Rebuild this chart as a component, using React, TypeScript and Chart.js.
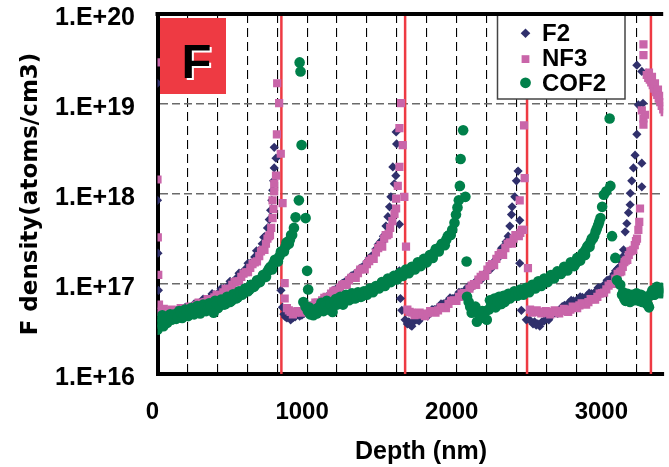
import React, { useEffect, useRef } from 'react';
import { Chart, registerables } from 'chart.js';

Chart.register(...registerables);

// ---------- data ----------
const seriesNames = ['F2', 'NF3', 'COF2'];
const xLabelValues = [0, 1000, 2000, 3000];
const xTickLabels = ['0', '1000', '2000', '3000'];
const xGridValues = [0, 200, 400, 600, 800, 1000, 1200, 1400, 1600, 1800, 2000, 2200, 2400, 2600, 2800, 3000, 3200];
const yTickValues = [1e16, 1e17, 1e18, 1e19, 1e20];
const yTickLabels = ['1.E+16', '1.E+17', '1.E+18', '1.E+19', '1.E+20'];
const xTitle = 'Depth (nm)';
const yTitle = 'F density(atoms/cm3)';
const interfaceDepths = [828, 1655, 2470, 3298];
const xMin = 0;
const xMax = 3380;
const yMin = 1e16;
const yMax = 1e20;

// [depth (nm), density (atoms/cm3)]
const f2Points = [
  [0, 1.7e19], [0, 8.5e17], [3, 2.2e17], [6, 8.5e16], [25, 5.0e16], [50, 4.6e16], [80, 4.5e16], [110, 4.7e16],
  [140, 4.8e16], [170, 5.0e16], [200, 5.2e16], [230, 5.5e16], [260, 5.9e16], [290, 6.2e16], [320, 6.6e16],
  [350, 7.1e16], [380, 7.6e16], [410, 8.1e16], [440, 8.9e16], [470, 9.5e16], [500, 1.05e17], [530, 1.17e17],
  [560, 1.32e17], [590, 1.48e17], [620, 1.7e17], [650, 2.0e17], [675, 2.34e17], [700, 2.8e17], [720, 3.4e17],
  [735, 4.2e17], [747, 5.2e17], [756, 6.6e17], [764, 8.5e17], [770, 1.1e18], [776, 1.4e18], [780, 1.95e18],
  [792, 2.5e18], [780, 3.3e18], [825, 8.5e16],
  [835, 5.5e16], [845, 4.6e16], [865, 4.2e16], [890, 4.0e16], [920, 4.3e16], [950, 4.4e16], [980, 4.7e16],
  [1010, 5.0e16], [1040, 5.5e16], [1070, 6.0e16], [1100, 6.6e16], [1130, 7.2e16], [1160, 7.9e16], [1190, 8.7e16],
  [1220, 9.5e16], [1250, 1.05e17], [1280, 1.15e17], [1310, 1.26e17], [1340, 1.38e17], [1370, 1.55e17],
  [1400, 1.78e17], [1430, 2.04e17], [1460, 2.45e17], [1490, 2.95e17], [1510, 3.4e17], [1527, 4.4e17],
  [1540, 5.6e17], [1551, 7.2e17], [1560, 9.3e17], [1573, 2.0e18], [1583, 1.3e18], [1593, 1.6e18],
  [1598, 3.6e18], [1595, 4.9e18], [1617, 4.6e17], [1617, 1.4e17], [1624, 6.9e16], [1633, 5.1e16],
  [1655, 4.0e16], [1670, 3.6e16], [1690, 3.5e16], [1710, 3.8e16], [1735, 4.0e16], [1760, 4.3e16], [1790, 4.6e16],
  [1820, 4.9e16], [1850, 5.2e16], [1880, 5.6e16], [1910, 6.0e16], [1940, 6.5e16], [1970, 6.9e16], [2000, 7.4e16],
  [2030, 8.1e16], [2060, 8.7e16], [2090, 9.3e16], [2120, 1.02e17], [2150, 1.12e17], [2180, 1.23e17],
  [2210, 1.41e17], [2240, 1.62e17], [2265, 1.9e17], [2290, 2.24e17], [2310, 2.57e17], [2330, 2.95e17],
  [2344, 3.4e17], [2355, 4.4e17], [2366, 5.9e17], [2370, 7.2e17], [2388, 9.3e17], [2399, 1.4e18], [2410, 1.8e18],
  [2421, 5.1e17], [2421, 1.7e17], [2432, 5.1e16], [2465, 4.0e16],
  [2487, 4.0e16], [2510, 3.6e16], [2531, 3.5e16], [2542, 3.6e16], [2570, 3.8e16], [2600, 4.1e16], [2630, 4.4e16],
  [2660, 4.8e16], [2690, 5.2e16], [2720, 5.8e16], [2750, 6.2e16], [2780, 6.5e16], [2810, 6.8e16], [2840, 7.1e16],
  [2870, 7.4e16], [2900, 7.8e16], [2930, 8.3e16], [2960, 9.1e16], [2990, 1.0e17], [3020, 1.12e17], [3050, 1.29e17],
  [3075, 1.48e17], [3100, 1.78e17], [3115, 2.4e17], [3126, 3.8e17], [3137, 4.7e17], [3148, 6.2e17],
  [3159, 7.6e17], [3160, 1.02e18], [3170, 1.4e18], [3181, 1.95e18], [3192, 2.7e18], [3204, 4.6e18],
  [3237, 2.2e18], [3237, 1.2e18], [3214, 9.8e18], [3245, 1.02e19], [3204, 2.7e19], [3237, 2.3e19],
  [3269, 2.2e19], [3285, 2.0e19],
];

// additional F2 readings scattered across the band
const f2BandPoints = [
  [40, 4.4e16], [65, 4.9e16], [95, 4.3e16], [125, 5.1e16], [155, 4.6e16], [185, 5.5e16], [215, 5.0e16],
  [245, 6.0e16], [275, 5.5e16], [305, 6.8e16], [335, 6.3e16], [365, 7.8e16], [395, 7.2e16], [425, 8.9e16],
  [455, 8.5e16], [485, 1.07e17], [515, 1.02e17], [545, 1.32e17], [575, 1.29e17], [605, 1.7e17], [635, 1.7e17],
  [662, 2.34e17], [688, 2.4e17], [710, 3.3e17],
  [855, 4.3e16], [878, 4.5e16], [905, 4.2e16], [935, 4.6e16], [965, 4.5e16], [995, 5.1e16], [1025, 5.0e16],
  [1055, 5.9e16], [1085, 5.9e16], [1115, 7.1e16], [1145, 7.0e16], [1175, 8.5e16], [1205, 8.5e16], [1235, 1.02e17],
  [1265, 1.02e17], [1295, 1.23e17], [1325, 1.23e17], [1355, 1.5e17], [1385, 1.55e17], [1415, 1.95e17],
  [1445, 2.1e17], [1475, 2.75e17], [1500, 2.9e17],
  [1680, 3.8e16], [1700, 3.4e16], [1722, 4.0e16], [1748, 3.9e16], [1775, 4.6e16], [1805, 4.4e16], [1835, 5.2e16],
  [1865, 5.1e16], [1895, 6.0e16], [1925, 5.9e16], [1955, 7.0e16], [1985, 6.9e16], [2015, 8.1e16], [2045, 8.0e16],
  [2075, 9.3e16], [2105, 9.3e16], [2135, 1.1e17], [2165, 1.12e17], [2195, 1.35e17], [2225, 1.45e17],
  [2252, 1.8e17], [2278, 1.95e17], [2300, 2.5e17], [2320, 2.6e17],
  [2520, 3.8e16], [2555, 3.4e16], [2585, 3.9e16], [2615, 4.0e16], [2645, 4.7e16], [2675, 4.7e16], [2705, 5.6e16],
  [2735, 5.7e16], [2765, 6.6e16], [2795, 6.3e16], [2825, 7.2e16], [2855, 6.9e16], [2885, 7.9e16], [2915, 7.7e16],
  [2945, 9.1e16], [2975, 9.1e16], [3005, 1.1e17], [3035, 1.15e17], [3062, 1.4e17], [3088, 1.55e17], [3108, 2.0e17],
];

const nf3Points = [
  [0, 2.9e19], [0, 1.45e18], [2, 3.3e17], [5, 1.26e17], [10, 5.9e16], [30, 5.2e16], [55, 5.0e16], [80, 4.9e16],
  [110, 5.0e16], [140, 5.0e16], [170, 5.1e16], [200, 5.2e16], [230, 5.5e16], [260, 5.8e16], [290, 6.0e16],
  [320, 6.3e16], [350, 6.6e16], [380, 7.1e16], [410, 7.6e16], [440, 8.1e16], [470, 8.9e16], [500, 9.8e16],
  [530, 1.07e17], [560, 1.2e17], [590, 1.35e17], [620, 1.51e17], [650, 1.74e17], [680, 2.04e17], [705, 2.4e17],
  [725, 2.8e17], [745, 3.4e17], [760, 4.2e17], [769, 5.4e17], [775, 6.8e17], [769, 8.5e17], [780, 1.07e18],
  [780, 1.3e18], [792, 1.6e18], [798, 4.6e18], [800, 1.7e19], [813, 1.02e19], [824, 2.8e18], [836, 7.9e17],
  [850, 1.02e17], [850, 6.9e16],
  [865, 5.4e16], [890, 4.9e16], [920, 4.8e16], [950, 4.9e16], [980, 5.1e16], [1010, 5.4e16], [1040, 5.8e16],
  [1070, 6.2e16], [1100, 6.6e16], [1130, 7.2e16], [1160, 7.8e16], [1190, 8.5e16], [1220, 9.1e16], [1250, 1.0e17],
  [1280, 1.1e17], [1310, 1.2e17], [1340, 1.32e17], [1370, 1.48e17], [1400, 1.66e17], [1430, 1.9e17],
  [1460, 2.24e17], [1490, 2.7e17], [1515, 3.2e17], [1535, 3.5e17], [1555, 4.2e17], [1570, 5.0e17],
  [1584, 6.0e17], [1595, 6.9e17], [1595, 8.9e17], [1606, 1.23e18], [1617, 2.0e18], [1617, 5.4e18],
  [1628, 1.02e19], [1639, 3.5e18], [1650, 9.3e17], [1661, 2.6e17],
  [1670, 5.2e16], [1700, 4.8e16], [1735, 4.6e16], [1770, 4.6e16], [1805, 4.7e16], [1840, 4.9e16], [1875, 5.1e16],
  [1910, 5.5e16], [1945, 6.0e16], [1980, 6.6e16], [2015, 7.2e16], [2050, 7.9e16], [2085, 8.9e16], [2115, 1.0e17],
  [2145, 1.12e17], [2175, 1.26e17], [2205, 1.45e17], [2235, 1.66e17], [2265, 1.9e17], [2295, 2.2e17],
  [2325, 2.5e17], [2355, 2.9e17], [2380, 3.2e17], [2405, 3.5e17], [2425, 3.7e17], [2445, 4.0e17],
  [2421, 8.5e17], [2454, 1.5e18], [2450, 5.8e18], [2476, 1.5e17],
  [2490, 5.2e16], [2520, 5.0e16], [2550, 4.9e16], [2580, 4.8e16], [2610, 4.8e16], [2640, 4.9e16], [2670, 4.9e16],
  [2700, 5.0e16], [2730, 5.1e16], [2760, 5.2e16], [2790, 5.5e16], [2820, 5.8e16], [2850, 6.0e16], [2880, 6.3e16],
  [2910, 6.8e16], [2940, 7.2e16], [2970, 7.9e16], [3000, 8.7e16], [3030, 1.0e17], [3060, 1.15e17],
  [3090, 1.35e17], [3110, 1.55e17], [3130, 1.82e17], [3150, 2.1e17], [3170, 2.34e17], [3190, 2.7e17],
  [3205, 3.2e17], [3214, 4.0e17], [3220, 4.9e17], [3225, 6.9e17], [3237, 8.5e18], [3248, 6.9e18],
  [3248, 5.9e18], [3258, 7.6e18], [3248, 3.5e19], [3248, 4.6e19],
  [3270, 2.1e19], [3280, 1.95e19], [3290, 1.86e19], [3300, 1.74e19], [3310, 1.62e19], [3320, 1.48e19],
  [3330, 1.35e19], [3340, 1.26e19], [3350, 1.15e19], [3360, 1.05e19], [3370, 9.5e18], [3380, 8.7e18],
  [3390, 8.1e18], [3285, 2.24e19], [3305, 2.0e19], [3325, 1.7e19], [3345, 1.45e19], [3365, 1.23e19],
  [3385, 1.05e19],
];

// additional NF3 readings scattered across the band
const nf3BandPoints = [
  [20, 4.9e16], [42, 5.3e16], [68, 4.7e16], [95, 5.2e16], [125, 4.8e16], [155, 5.4e16], [185, 4.9e16],
  [215, 5.6e16], [245, 5.3e16], [275, 6.2e16], [305, 5.8e16], [335, 6.8e16], [365, 6.5e16], [395, 7.6e16],
  [425, 7.5e16], [455, 8.8e16], [485, 8.8e16], [515, 1.05e17], [545, 1.07e17], [575, 1.3e17], [605, 1.35e17],
  [635, 1.66e17], [665, 1.78e17], [692, 2.3e17], [715, 2.4e17], [735, 3.2e17], [752, 3.5e17],
  [878, 5.1e16], [905, 4.6e16], [935, 5.0e16], [965, 4.8e16], [995, 5.4e16], [1025, 5.3e16], [1055, 6.2e16],
  [1085, 6.0e16], [1115, 7.0e16], [1145, 7.0e16], [1175, 8.3e16], [1205, 8.2e16], [1235, 9.8e16], [1265, 9.8e16],
  [1295, 1.17e17], [1325, 1.17e17], [1355, 1.45e17], [1385, 1.45e17], [1415, 1.8e17], [1445, 1.9e17],
  [1475, 2.5e17], [1502, 2.6e17], [1525, 3.5e17], [1545, 3.6e17],
  [1685, 4.9e16], [1718, 4.5e16], [1752, 4.8e16], [1788, 4.4e16], [1822, 5.0e16], [1858, 4.8e16], [1892, 5.5e16],
  [1928, 5.4e16], [1962, 6.5e16], [1998, 6.5e16], [2032, 7.8e16], [2068, 7.8e16], [2100, 9.6e16], [2130, 9.8e16],
  [2160, 1.2e17], [2190, 1.23e17], [2220, 1.58e17], [2250, 1.62e17], [2280, 2.1e17], [2310, 2.1e17],
  [2340, 2.8e17], [2368, 2.8e17], [2392, 3.5e17], [2415, 3.4e17], [2435, 4.0e17],
  [2505, 4.8e16], [2535, 5.1e16], [2565, 4.7e16], [2595, 5.0e16], [2625, 4.6e16], [2655, 5.1e16], [2685, 4.7e16],
  [2715, 5.3e16], [2745, 4.9e16], [2775, 5.6e16], [2805, 5.4e16], [2835, 6.1e16], [2865, 5.9e16], [2895, 6.8e16],
  [2925, 6.7e16], [2955, 7.8e16], [2985, 8.0e16], [3015, 9.6e16], [3045, 1.0e17], [3075, 1.3e17], [3100, 1.38e17],
  [3120, 1.75e17], [3140, 1.85e17], [3160, 2.3e17], [3180, 2.4e17], [3198, 3.0e17],
];

const cof2Points = [
  [0, 3.1e16], [15, 3.6e16], [25, 4.2e16], [40, 3.4e16], [55, 4.0e16], [75, 4.4e16], [95, 4.0e16], [115, 4.6e16],
  [135, 4.3e16], [155, 4.8e16], [175, 4.5e16], [195, 5.0e16], [215, 4.6e16], [235, 5.1e16], [255, 4.9e16],
  [275, 5.4e16], [295, 5.0e16], [315, 5.5e16], [335, 5.2e16], [355, 5.8e16], [375, 4.8e16], [395, 6.0e16],
  [415, 5.8e16], [435, 6.3e16], [455, 6.0e16], [475, 6.8e16], [495, 6.5e16], [515, 7.2e16], [535, 7.1e16],
  [555, 7.8e16], [575, 7.9e16], [595, 8.5e16], [615, 8.7e16], [635, 9.3e16], [655, 9.8e16], [675, 1.07e17],
  [695, 1.15e17], [715, 1.26e17], [735, 1.38e17], [755, 1.55e17], [775, 1.7e17], [795, 1.86e17], [815, 2.04e17],
  [835, 2.3e17], [855, 2.6e17], [870, 2.8e17], [885, 3.1e17], [900, 3.5e17], [912, 4.2e17], [923, 5.5e17],
  [945, 8.5e17], [963, 3.5e18], [950, 2.9e19], [956, 2.3e19], [990, 5.4e17], [1000, 1.4e17], [1007, 8.7e16],
  [975, 6.3e16], [990, 5.6e16], [1005, 5.0e16], [1020, 4.6e16], [1035, 4.8e16], [1050, 5.2e16], [1065, 4.7e16],
  [1080, 5.5e16], [1095, 6.2e16], [1110, 5.0e16], [1125, 5.8e16], [1140, 5.2e16], [1155, 6.0e16], [1170, 4.9e16],
  [1185, 6.3e16], [1200, 5.9e16], [1215, 6.6e16], [1230, 6.2e16], [1250, 6.9e16], [1270, 7.2e16], [1290, 6.8e16],
  [1310, 7.4e16], [1330, 7.1e16], [1350, 7.6e16], [1370, 7.4e16], [1390, 7.9e16], [1410, 8.1e16], [1430, 8.5e16],
  [1450, 8.9e16], [1470, 9.1e16], [1490, 9.5e16], [1510, 1.0e17], [1530, 1.05e17], [1550, 1.1e17], [1570, 1.12e17],
  [1590, 1.17e17], [1610, 1.23e17], [1630, 1.29e17], [1650, 1.35e17], [1670, 1.38e17], [1690, 1.45e17],
  [1710, 1.51e17], [1730, 1.58e17], [1750, 1.66e17], [1770, 1.7e17], [1790, 1.82e17], [1810, 1.95e17],
  [1830, 2.1e17], [1850, 2.24e17], [1870, 2.4e17], [1890, 2.6e17], [1910, 2.8e17], [1930, 3.1e17], [1950, 3.5e17],
  [1970, 4.0e17], [1985, 4.8e17], [1995, 5.9e17], [2005, 7.1e17], [2014, 8.5e17], [2021, 1.23e18], [2026, 2.45e18],
  [2043, 5.1e18], [2058, 9.3e17], [2066, 1.78e17],
  [2069, 7.2e16], [2090, 5.6e16], [2113, 5.1e16], [2135, 3.8e16], [2150, 4.6e16], [2170, 5.0e16], [2185, 4.2e16],
  [2201, 4.0e16], [2215, 5.2e16], [2230, 5.8e16], [2245, 6.3e16], [2260, 5.5e16], [2275, 6.3e16], [2290, 6.0e16],
  [2305, 6.8e16], [2320, 6.3e16], [2335, 7.1e16], [2355, 6.9e16], [2375, 7.4e16], [2395, 7.8e16], [2415, 7.9e16],
  [2435, 8.1e16], [2455, 8.3e16], [2475, 8.5e16], [2495, 8.9e16], [2515, 9.3e16], [2535, 9.8e16], [2555, 1.0e17],
  [2575, 1.05e17], [2597, 1.1e17], [2620, 1.17e17], [2640, 1.23e17], [2660, 1.26e17], [2685, 1.32e17],
  [2707, 1.38e17], [2730, 1.48e17], [2750, 1.55e17], [2775, 1.62e17], [2796, 1.7e17], [2815, 1.86e17],
  [2835, 2.04e17], [2850, 2.24e17], [2862, 2.4e17], [2880, 2.7e17], [2895, 2.95e17], [2910, 3.2e17],
  [2928, 3.8e17], [2945, 4.5e17], [2961, 5.4e17], [2972, 7.2e17], [2983, 9.8e17], [3000, 1.07e18],
  [3027, 1.23e18], [3022, 6.9e18], [3038, 3.4e17], [3060, 1.95e17], [3071, 1.1e17], [3093, 9.8e16],
  [3105, 7.6e16], [3120, 6.9e16], [3135, 7.2e16], [3150, 6.6e16], [3165, 7.2e16], [3180, 6.9e16], [3195, 7.4e16],
  [3210, 6.8e16], [3225, 7.1e16], [3240, 6.3e16], [3255, 6.9e16], [3270, 6.0e16], [3285, 5.5e16], [3300, 7.9e16],
  [3315, 7.6e16], [3330, 8.5e16], [3345, 9.1e16], [3360, 7.9e16], [3375, 8.3e16], [3390, 8.9e16],
];

// additional COF2 readings scattered across the band
const cof2BandPoints = [
  [8, 3.8e16], [32, 4.5e16], [48, 3.8e16], [65, 3.7e16], [85, 4.6e16], [105, 4.3e16], [125, 4.1e16], [145, 5.0e16],
  [165, 4.2e16], [185, 5.2e16], [205, 4.4e16], [225, 5.4e16], [245, 4.6e16], [265, 5.7e16], [285, 4.7e16],
  [305, 5.9e16], [325, 5.0e16], [345, 6.1e16], [365, 5.5e16], [385, 6.5e16], [405, 5.4e16], [425, 6.7e16],
  [445, 5.9e16], [465, 7.2e16], [485, 6.3e16], [505, 7.7e16], [525, 6.9e16], [545, 8.3e16], [565, 7.6e16],
  [585, 8.9e16], [605, 8.3e16], [625, 9.8e16], [645, 9.3e16], [665, 1.1e17], [685, 1.05e17], [705, 1.26e17],
  [725, 1.2e17], [745, 1.48e17], [765, 1.45e17], [785, 1.86e17], [805, 1.78e17], [825, 2.3e17], [845, 2.3e17],
  [862, 2.9e17], [878, 2.8e17], [893, 3.5e17],
  [1012, 5.5e16], [1042, 4.5e16], [1072, 5.4e16], [1102, 5.8e16], [1132, 6.5e16], [1162, 5.6e16], [1192, 6.8e16],
  [1222, 7.2e16], [1240, 5.9e16], [1260, 7.6e16], [1280, 6.6e16], [1300, 7.9e16], [1320, 6.9e16], [1340, 8.1e16],
  [1360, 7.2e16], [1380, 8.3e16], [1400, 7.6e16], [1420, 8.9e16], [1440, 8.1e16], [1460, 9.5e16], [1480, 8.9e16],
  [1500, 1.05e17], [1520, 9.5e16], [1540, 1.15e17], [1560, 1.05e17], [1580, 1.23e17], [1600, 1.12e17],
  [1620, 1.32e17], [1640, 1.23e17], [1660, 1.45e17], [1680, 1.32e17], [1700, 1.55e17], [1720, 1.45e17],
  [1740, 1.74e17], [1760, 1.58e17], [1780, 1.9e17], [1800, 1.74e17], [1820, 2.1e17], [1840, 1.95e17],
  [1860, 2.45e17], [1880, 2.3e17], [1900, 2.8e17], [1920, 2.7e17], [1940, 3.4e17], [1960, 3.5e17],
  [2080, 6.3e16], [2100, 4.8e16], [2125, 5.6e16], [2160, 4.2e16], [2195, 5.0e16], [2222, 6.6e16], [2252, 6.9e16],
  [2268, 5.8e16], [2283, 7.2e16], [2298, 6.0e16], [2313, 7.4e16], [2328, 6.6e16], [2345, 7.8e16], [2365, 7.2e16],
  [2385, 8.3e16], [2405, 7.4e16], [2425, 8.7e16], [2445, 7.6e16], [2465, 9.1e16], [2485, 8.1e16], [2505, 9.8e16],
  [2525, 8.9e16], [2545, 1.07e17], [2565, 9.5e16], [2585, 1.15e17], [2608, 1.05e17], [2630, 1.26e17],
  [2650, 1.15e17], [2672, 1.38e17], [2696, 1.29e17], [2718, 1.55e17], [2740, 1.41e17], [2762, 1.74e17],
  [2785, 1.58e17], [2805, 1.95e17], [2825, 1.82e17], [2842, 2.2e17], [2858, 2.1e17], [2872, 2.6e17],
  [2888, 2.6e17], [2903, 3.2e17], [2918, 3.4e17], [2936, 4.1e17], [2952, 4.9e17],
  [3112, 8.1e16], [3128, 6.5e16], [3142, 7.8e16], [3158, 6.3e16], [3172, 7.6e16], [3188, 6.6e16], [3202, 7.9e16],
  [3218, 6.5e16], [3232, 7.6e16], [3248, 6.6e16], [3262, 7.2e16], [3278, 5.9e16], [3292, 7.4e16], [3308, 8.5e16],
  [3322, 7.6e16], [3338, 9.3e16], [3352, 8.5e16], [3368, 9.1e16], [3382, 7.9e16],
];

// ---------- styles ----------
const COLORS = { f2: '#30306C', nf3: '#C965A9', cof2: '#00804A', red: '#EE3A43' };
const LABEL_FONT = '"Liberation Sans", Arial, sans-serif';

const toXY = (pts: number[][]) => pts.map(([x, y]) => ({ x, y }));

const overlayPlugin = {
  id: 'overlay',
  afterDraw(chart: any) {
    const { ctx, chartArea } = chart;
    const { left, top, right, bottom } = chartArea;
    ctx.save();

    // "F" panel
    const bx = left + 2.5, by = top + 4, bw = 66, bh = 76;
    ctx.fillStyle = COLORS.red;
    ctx.fillRect(bx, by, bw, bh);
    ctx.font = `bold 49px ${LABEL_FONT}`;
    ctx.textAlign = 'center';
    ctx.textBaseline = 'alphabetic';
    ctx.fillStyle = '#fff';
    ctx.fillText('F', bx + 36.5 + 2, by + 60 + 2);
    ctx.fillStyle = '#000';
    ctx.fillText('F', bx + 36.5, by + 60);

    // legend box
    const lx = 497.5, ly = top, lw = 127.5, lh = 85;
    ctx.fillStyle = '#fff';
    ctx.fillRect(lx, ly, lw, lh);
    ctx.strokeStyle = '#444';
    ctx.lineWidth = 1.5;
    ctx.strokeRect(lx, ly, lw, lh);

    const mx = 525.5;
    ctx.fillStyle = COLORS.f2;
    ctx.beginPath();
    ctx.moveTo(mx, 28.5); ctx.lineTo(mx + 4.8, 33.3); ctx.lineTo(mx, 38.1); ctx.lineTo(mx - 4.8, 33.3);
    ctx.closePath(); ctx.fill();
    ctx.fillStyle = COLORS.nf3;
    ctx.fillRect(mx - 3.9, 55.2, 7.8, 7.8);
    ctx.fillStyle = COLORS.cof2;
    ctx.beginPath(); ctx.arc(mx, 82.8, 5.4, 0, Math.PI * 2); ctx.fill();

    ctx.fillStyle = '#000';
    ctx.font = `bold 24px ${LABEL_FONT}`;
    ctx.textAlign = 'left';
    ctx.textBaseline = 'alphabetic';
    ctx.fillText(seriesNames[0], 542, 41);
    ctx.fillText(seriesNames[1], 542, 66);
    ctx.fillText(seriesNames[2], 542, 91);

    // x-axis title
    ctx.font = `bold 25px ${LABEL_FONT}`;
    ctx.textAlign = 'center';
    ctx.textBaseline = 'middle';
    ctx.fillText(xTitle, 421, bottom + 78);

    // top frame line
    ctx.strokeStyle = '#000';
    ctx.lineWidth = 4;
    ctx.beginPath();
    ctx.moveTo(left - 2, top);
    ctx.lineTo(right, top);
    ctx.stroke();
    ctx.restore();
  },
};

export default function App() {
  const ref = useRef<HTMLCanvasElement>(null);

  useEffect(() => {
    const canvas = ref.current;
    if (!canvas) return;

    const redLines = interfaceDepths.map((d) => ({
      label: 'interface',
      data: [{ x: d, y: yMin }, { x: d, y: yMax }],
      showLine: true,
      borderColor: COLORS.red,
      borderWidth: 2.5,
      pointRadius: 0,
      order: 10,
    }));

    const chart = new Chart(canvas, {
      type: 'scatter',
      data: {
        datasets: [
          {
            label: seriesNames[0],
            data: toXY([...f2BandPoints, ...f2Points]),
            pointStyle: 'rectRot',
            pointRadius: 4.6,
            backgroundColor: COLORS.f2,
            borderColor: COLORS.f2,
            pointBorderWidth: 0,
            order: 3,
          },
          {
            label: seriesNames[1],
            data: toXY([...nf3BandPoints, ...nf3Points]),
            pointStyle: 'rect',
            pointRadius: 5.8,
            backgroundColor: COLORS.nf3,
            borderColor: COLORS.nf3,
            pointBorderWidth: 0,
            order: 2,
          },
          {
            label: seriesNames[2],
            data: toXY([...cof2BandPoints, ...cof2Points]),
            pointStyle: 'circle',
            pointRadius: 5.3,
            backgroundColor: COLORS.cof2,
            borderColor: COLORS.cof2,
            pointBorderWidth: 0,
            order: 1,
          },
          ...redLines,
        ] as any,
      },
      options: {
        responsive: false,
        animation: false,
        devicePixelRatio: 1,
        layout: { padding: { top: 14, left: 0, right: 0, bottom: 0 } },
        plugins: { legend: { display: false }, tooltip: { enabled: false } },
        scales: {
          x: {
            type: 'linear',
            min: xMin,
            max: xMax,
            afterBuildTicks: (s: any) => {
              s.ticks = xGridValues.map((v) => ({ value: v }));
            },
            afterFit: (s: any) => {
              s.height = 93;
              s.paddingLeft = 0;
              s.paddingRight = 0;
            },
            ticks: {
              autoSkip: false,
              maxRotation: 0,
              minRotation: 0,
              padding: 24,
              labelOffset: -5,
              color: '#000',
              font: { family: LABEL_FONT, weight: 'bold', size: 24 },
              callback: (v: any) => {
                const i = xLabelValues.indexOf(Number(v));
                return i >= 0 ? xTickLabels[i] : '';
              },
            },
            grid: { color: '#000', lineWidth: 1.1, drawTicks: false },
            border: { display: true, color: '#000', width: 4, dash: [9, 5] },
            title: { display: false },
          },
          y: {
            type: 'logarithmic',
            min: yMin,
            max: yMax,
            afterBuildTicks: (s: any) => {
              s.ticks = yTickValues.map((v) => ({ value: v }));
            },
            afterFit: (s: any) => {
              s.width = 157.5;
              s.paddingTop = 0;
              s.paddingBottom = 0;
            },
            ticks: {
              autoSkip: false,
              padding: 22.5,
              labelOffset: 4,
              color: '#000',
              font: { family: LABEL_FONT, weight: 'bold', size: 25 },
              callback: (v: any) => {
                const i = yTickValues.indexOf(Number(v));
                return i >= 0 ? yTickLabels[i] : '';
              },
            },
            grid: { color: '#6a6a6a', lineWidth: 1.5, drawTicks: false },
            border: { display: true, color: '#000', width: 4, dash: [8, 4] },
            title: {
              display: true,
              text: yTitle,
              color: '#000',
              font: { family: '"DejaVu Sans", sans-serif', weight: 'bold', size: 23 },
              padding: { top: 17, bottom: 0 },
            },
          },
        },
      } as any,
      plugins: [overlayPlugin],
    });

    return () => chart.destroy();
  }, []);

  return (
    <div style={{ position: 'fixed', left: 0, top: 0, width: 669, height: 467, background: '#fff', overflow: 'hidden' }}>
      <canvas ref={ref} width={669} height={467} style={{ display: 'block', width: 669, height: 467 }} />
    </div>
  );
}
